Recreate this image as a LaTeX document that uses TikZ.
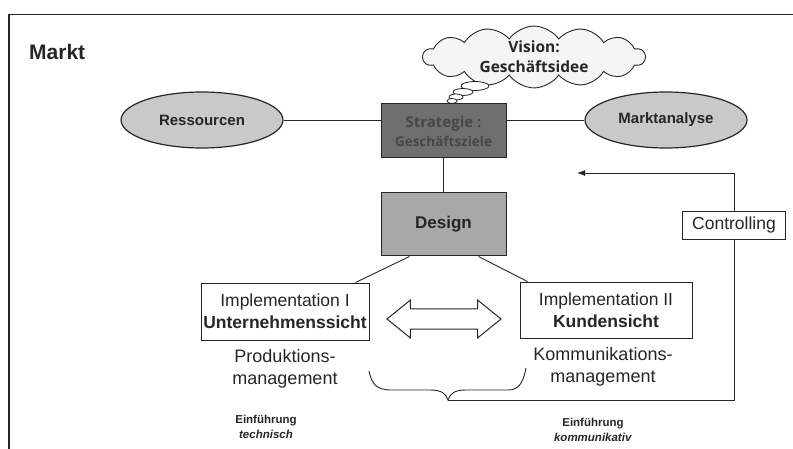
\documentclass[tikz,border=0pt]{standalone}
\usepackage{fontspec}
\setmainfont{Liberation Sans}
\newfontfamily\thinkfont{Open Sans}
\usetikzlibrary{shapes.geometric,shapes.symbols,shapes.arrows,arrows.meta}
\definecolor{ovalgrey}{HTML}{C9C9C9}
\definecolor{stratgrey}{HTML}{6F6F6F}
\definecolor{stratink}{HTML}{474747}
\definecolor{designgrey}{HTML}{A8A8A8}
\definecolor{ink}{HTML}{262626}

\begin{document}
\begin{tikzpicture}[x=1pt,y=1pt,yscale=-1,
  line/.style={draw=ink,line width=0.9},
  oval/.style={ellipse,draw=ink,line width=1.2,fill=ovalgrey,inner sep=0,minimum width=162pt,minimum height=56pt,font=\fontsize{15}{18}\selectfont\bfseries,text=ink},
  greybox/.style={rectangle,draw=ink,line width=1,inner sep=0,minimum width=125pt,align=center},
  plainbox/.style={rectangle,draw=ink,line width=0.9,fill=white,inner sep=0,align=center,font=\fontsize{17.5}{22}\selectfont,text=ink},
  bubble/.style={draw=ink,line width=0.8,fill=white},
  smalltext/.style={align=center,inner sep=0,font=\fontsize{11.5}{15.5}\selectfont\bfseries,text=ink}]
  \useasboundingbox (0,0) rectangle (793,449);
  \draw[ink,line width=1.5] (9,449) -- (9,14.5) -- (793,14.5);
  \node[anchor=west,inner sep=0,font=\fontsize{21}{24}\selectfont\bfseries,text=ink] (markt) at (29,52) {Markt};

  \node[cloud,cloud puffs=14,cloud puff arc=110,cloud ignores aspect,draw=ink,line width=0.9,fill=black!4,inner sep=0,minimum width=222pt,minimum height=58pt,align=center,font=\thinkfont\fontsize{15.5}{20}\selectfont\bfseries,text=ink] (vision) at (534,57) {Vision:\\Geschäftsidee};
  \draw[bubble] (475,86) ellipse [x radius=14, y radius=4.5];
  \draw[bubble] (463,92) ellipse [x radius=10, y radius=3.5];
  \draw[bubble] (456,97) ellipse [x radius=7, y radius=3];
  \draw[bubble] (452,101) ellipse [x radius=5, y radius=2.5];

  \node[oval] (res) at (202,120) {Ressourcen};
  \node[oval] (mkt) at (666,120) {Marktanalyse};
  \node[greybox,fill=stratgrey,minimum height=54pt,font=\thinkfont\fontsize{15}{19}\selectfont\bfseries,text=stratink] (strat) at (443.5,131) {Strategie :\\{\fontsize{13.5}{16}\selectfont Geschäftsziele}};
  \node[greybox,fill=designgrey,minimum height=63pt,font=\fontsize{17}{20}\selectfont\bfseries,text=ink] (design) at (443.5,224.5) {Design};
  \draw[line] (res.east) -- (res.east -| strat.west);
  \draw[line] (mkt.west -| strat.east) -- (mkt.west);
  \draw[line] (strat) -- (design);

  \node[plainbox,minimum width=168pt,minimum height=57pt] (impl1) at (285,311.5) {Implementation I\\\textbf{Unternehmenssicht}};
  \node[plainbox,minimum width=172pt,minimum height=56pt] (impl2) at (606,310) {Implementation II\\\textbf{Kundensicht}};
  \draw[line] ([xshift=29pt]design.south west) -- ([xshift=-14pt]impl1.north east);
  \draw[line] ([xshift=-28pt]design.south east) -- ([xshift=8pt]impl2.north west);
  \node[double arrow,draw=ink,line width=1,fill=white,inner xsep=0,inner ysep=9.5pt,minimum height=114pt,double arrow head extend=9pt,double arrow tip angle=78] (swap) at (444,319) {};

  \node[align=center,inner sep=0,font=\fontsize{18}{22}\selectfont,text=ink] (prod) at (285,369) {Produktions-\\management};
  \node[align=center,inner sep=0,font=\fontsize{18}{22}\selectfont,text=ink] (komm) at (603,367) {Kommunikations-\\management};
  \node[smalltext] (einf1) at (266,427) {Einführung\\\textit{technisch}};
  \node[smalltext] (einf2) at (593,430) {Einführung\\\textit{kommunikativ}};

  \coordinate (bracetip) at (448,400);
  \draw[line] (369,371) .. controls (372,385) and (377,390) .. (392,390) -- (430,390) .. controls (442,390) and (446,394) .. (bracetip) .. controls (450,394) and (454,390) .. (466,390) -- (508,390) .. controls (518,390) and (523,384) .. (526,368);

  \node[plainbox,minimum width=103pt,minimum height=28pt] (ctrl) at (734,225) {Controlling};
  \coordinate (backtip) at (577,173);
  \draw[line] (bracetip) -| (ctrl.south);
  \draw[line,-{Latex[length=8pt,width=6pt]}] (ctrl.north) |- (backtip);
\end{tikzpicture}
\end{document}
